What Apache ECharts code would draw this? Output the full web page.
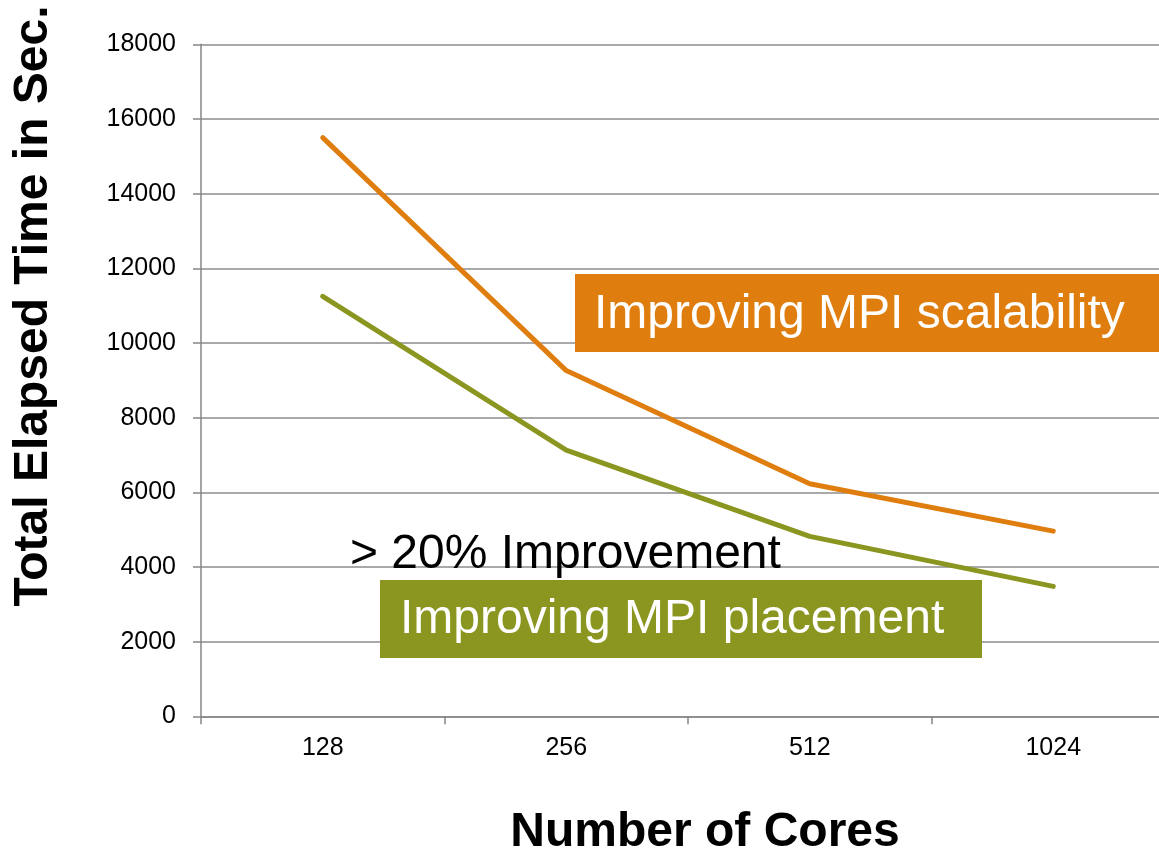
<!DOCTYPE html>
<html>
<head>
<meta charset="utf-8">
<title>Total Elapsed Time vs Number of Cores</title>
<script src="https://cdn.jsdelivr.net/npm/echarts@6/dist/echarts.min.js"></script>
<style>
  html, body { margin: 0; padding: 0; background: #ffffff; }
  #chart { width: 1159px; height: 853px; }
</style>
</head>
<body>
<div id="chart"></div>
<script>
// Core counts on the category axis
const cores = ['128', '256', '512', '1024'];
// Elapsed time (seconds) before the MPI placement change
const scalabilityTimes = [15500, 9260, 6230, 4960];
// Elapsed time (seconds) after the MPI placement change
const placementTimes = [11250, 7130, 4820, 3480];
// Value axis range
const yMin = 0;
const yMax = 18000;
const yStep = 2000;

const FONT = '"Liberation Sans", Arial, Helvetica, sans-serif';
const ORANGE = '#DF7E0E';
const GREEN = '#8A961F';
const GRID_GRAY = '#8C8C8C';

const chart = echarts.init(document.getElementById('chart'), null, { renderer: 'canvas' });

chart.setOption({
  backgroundColor: '#ffffff',
  animation: false,
  grid: {
    left: 201, top: 44.3, width: 974, height: 672,
    containLabel: false,
    outerBoundsMode: 'none'
  },
  xAxis: {
    type: 'category',
    data: cores,
    boundaryGap: true,
    axisLine: { show: true, lineStyle: { color: '#868686', width: 1.5 } },
    axisTick: { show: true, alignWithLabel: false, length: 8, lineStyle: { color: '#868686', width: 1.5 } },
    axisLabel: { color: '#000000', fontSize: 25, fontFamily: FONT, margin: 19 },
    splitLine: { show: false }
  },
  yAxis: {
    type: 'value',
    min: yMin,
    max: yMax,
    interval: yStep,
    axisLine: { show: true, lineStyle: { color: '#868686', width: 1.5 } },
    axisTick: { show: true, length: 8, lineStyle: { color: '#868686', width: 1.5 } },
    axisLabel: {
      color: '#000000', fontSize: 25, fontFamily: FONT, margin: 25,
      formatter: (v) => String(v)
    },
    splitLine: { show: true, lineStyle: { color: GRID_GRAY, width: 1.5 } }
  },
  series: [
    {
      name: 'Improving MPI scalability',
      type: 'line',
      data: scalabilityTimes,
      showSymbol: false,
      symbol: 'none',
      lineStyle: { color: ORANGE, width: 5, cap: 'round', join: 'round' },
      itemStyle: { color: ORANGE },
      z: 3
    },
    {
      name: 'Improving MPI placement',
      type: 'line',
      data: placementTimes,
      showSymbol: false,
      symbol: 'none',
      lineStyle: { color: GREEN, width: 5, cap: 'round', join: 'round' },
      itemStyle: { color: GREEN },
      z: 3
    }
  ],
  graphic: [
    // Axis titles
    {
      type: 'text',
      x: 34, y: 306,
      rotation: Math.PI / 2,
      z: 20,
      style: {
        text: 'Total Elapsed Time in Sec.',
        fill: '#000000',
        font: 'bold 48px ' + FONT,
        align: 'center',
        verticalAlign: 'middle'
      }
    },
    {
      type: 'text',
      x: 705, y: 833,
      z: 20,
      style: {
        text: 'Number of Cores',
        fill: '#000000',
        font: 'bold 48px ' + FONT,
        align: 'center',
        verticalAlign: 'middle'
      }
    },
    // Orange callout
    {
      type: 'rect',
      z: 20,
      shape: { x: 575, y: 274, width: 600, height: 78 },
      style: { fill: ORANGE }
    },
    {
      type: 'text',
      x: 594, y: 315,
      z: 21,
      style: {
        text: 'Improving MPI scalability',
        fill: '#ffffff',
        font: '48px ' + FONT,
        align: 'left',
        verticalAlign: 'middle'
      }
    },
    // Improvement note
    {
      type: 'text',
      x: 350, y: 555,
      z: 21,
      style: {
        text: '> 20% Improvement',
        fill: '#000000',
        font: '48px ' + FONT,
        align: 'left',
        verticalAlign: 'middle'
      }
    },
    // Green callout
    {
      type: 'rect',
      z: 20,
      shape: { x: 380, y: 580, width: 602, height: 78 },
      style: { fill: GREEN }
    },
    {
      type: 'text',
      x: 400, y: 620,
      z: 21,
      style: {
        text: 'Improving MPI placement',
        fill: '#ffffff',
        font: '48px ' + FONT,
        align: 'left',
        verticalAlign: 'middle'
      }
    }
  ]
});
</script>
</body>
</html>
